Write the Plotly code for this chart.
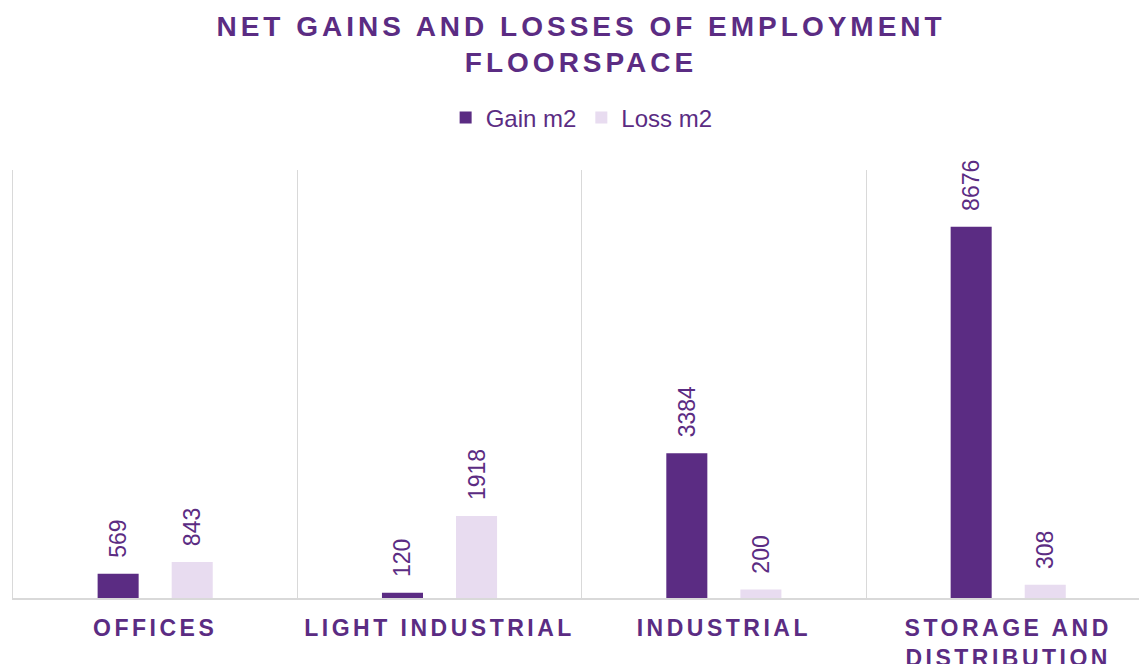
import plotly.graph_objects as go

categories = ["OFFICES", "LIGHT INDUSTRIAL", "INDUSTRIAL", "STORAGE AND<br>DISTRIBUTION"]
gain = [569, 120, 3384, 8676]
loss = [843, 1918, 200, 308]
series_names = ["Gain m2", "Loss m2"]
title_text = "NET GAINS AND LOSSES OF EMPLOYMENT<br>FLOORSPACE"

PURPLE = "#5B2C83"
LILAC = "#E8DCF0"
FONT = "Liberation Sans, Arial"

fig = go.Figure()
for name, vals, col in [(series_names[0], gain, PURPLE), (series_names[1], loss, LILAC)]:
    fig.add_trace(go.Bar(
        x=categories, y=vals, name=name, marker=dict(color=col, line=dict(width=0)),
        texttemplate="\u00a0\u00a0%{y}", textposition="outside", textangle=-90,
        constraintext="none",
        textfont=dict(family=FONT, size=23, color=PURPLE),
        cliponaxis=False,
    ))

fig.update_layout(
    width=1139, height=664,
    paper_bgcolor="white", plot_bgcolor="white",
    margin=dict(l=13, r=0, t=170, b=66),
    barmode="group", bargap=0.479, bargroupgap=0.446,
    title=dict(text=title_text, xref="paper", x=0.5045, xanchor="center",
               y=1 - 36 / 664, yanchor="middle",
               font=dict(family=FONT, size=28, color=PURPLE, weight="bold")),
    legend=dict(orientation="h", xref="paper", x=0.505, xanchor="center", yref="container",
                y=1 - 118 / 664, yanchor="middle", font=dict(family=FONT, size=24, color=PURPLE),
                itemwidth=30, traceorder="normal"),
    showlegend=True,
    xaxis=dict(tickson="boundaries", showgrid=True, gridcolor="#D9D9D9", gridwidth=1,
               range=[-0.5, 3.46], showline=True, linecolor="#D9D9D9", linewidth=2,
               ticks="", ticklabelstandoff=8, automargin=False,
               tickfont=dict(family=FONT, size=23, color=PURPLE, weight="bold"),
               zeroline=False),
    yaxis=dict(range=[0, 10000], showticklabels=False, showgrid=False, zeroline=False,
               showline=True, linecolor="#D9D9D9", linewidth=1, automargin=False),
)

post = """
var gd = document.getElementById('{plot_id}');
function sp(){
  gd.querySelectorAll('.gtitle').forEach(function(e){e.style.letterSpacing='4px';});
  gd.querySelectorAll('.xtick text').forEach(function(e){e.style.letterSpacing='3.5px';});
}
sp();
gd.on('plotly_afterplot', sp);
"""
fig.write_html("out.html", post_script=post)
